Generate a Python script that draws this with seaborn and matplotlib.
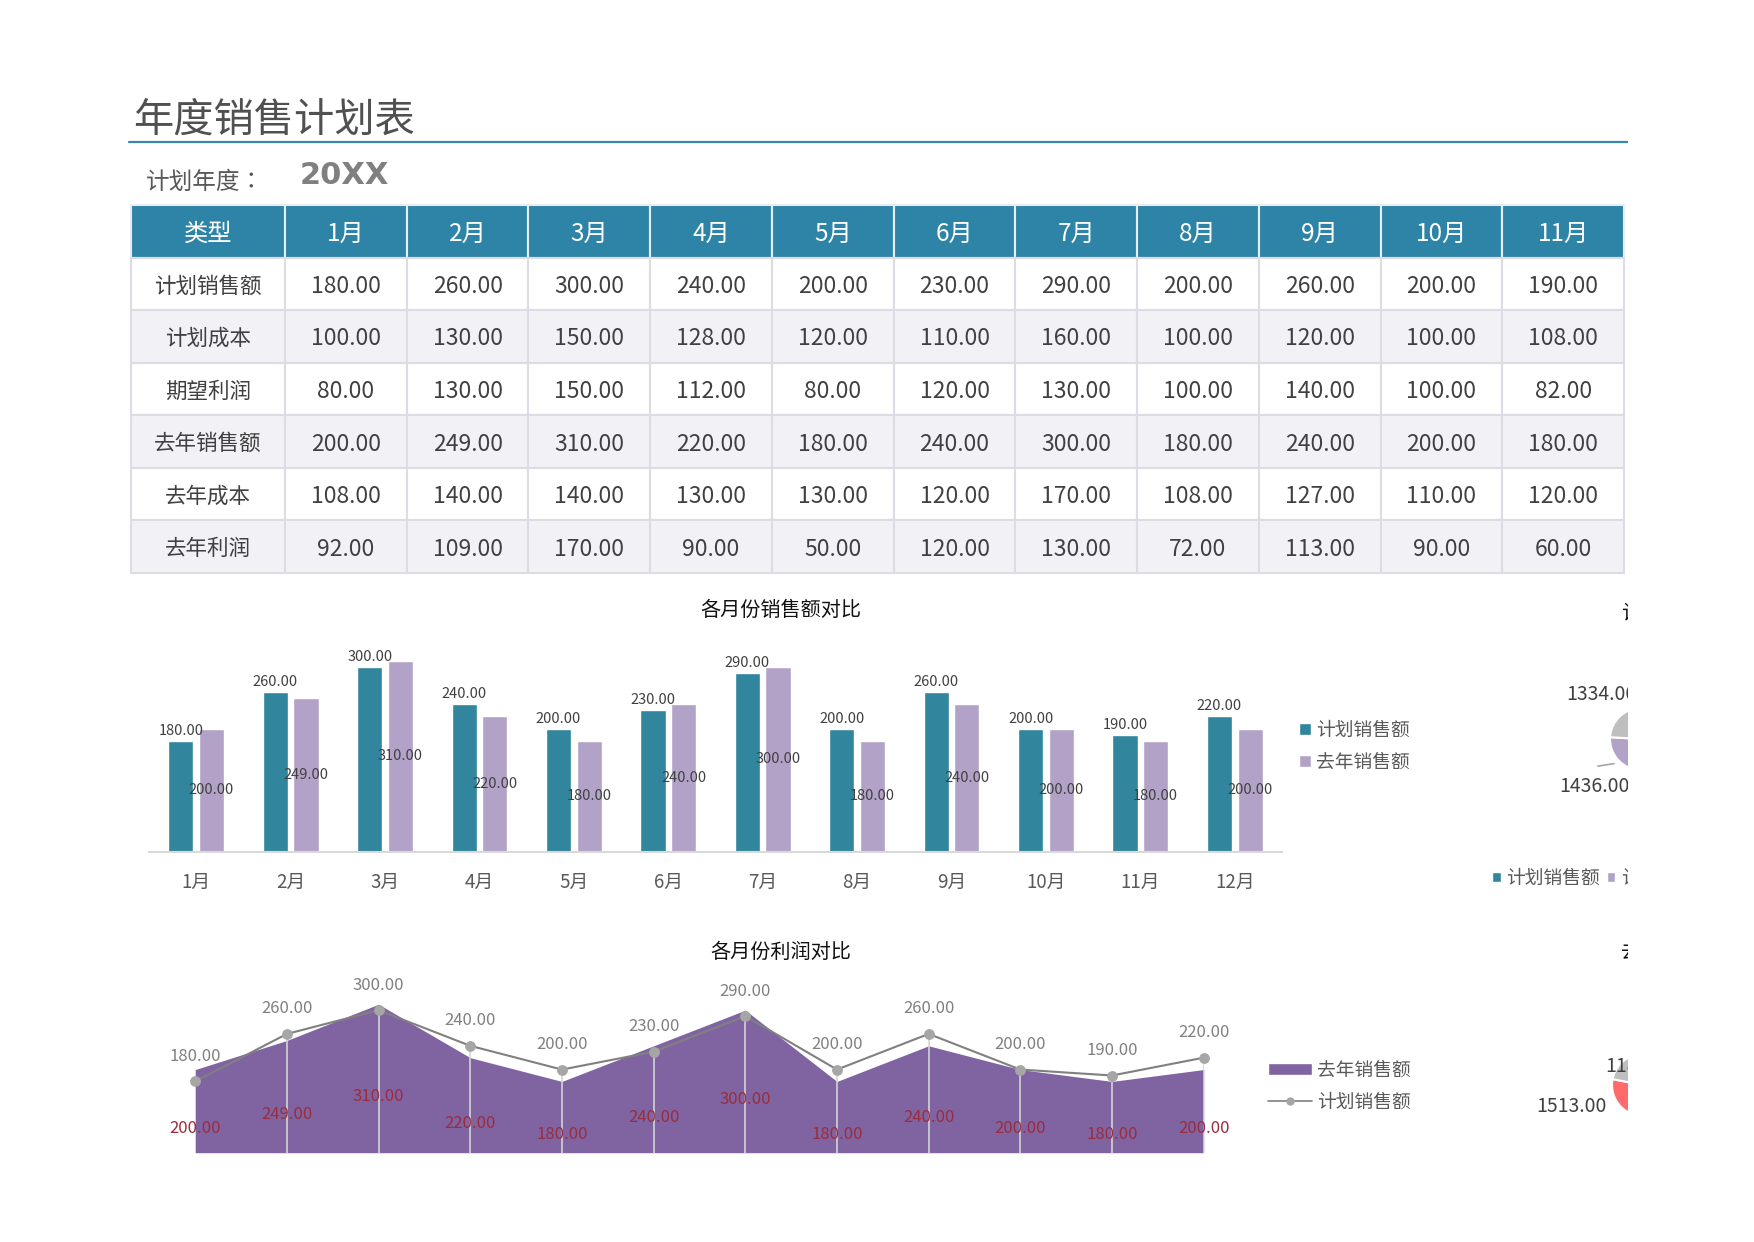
import numpy as np
import pandas as pd
import matplotlib
matplotlib.use("Agg")
import matplotlib.pyplot as plt
import seaborn as sns
from matplotlib.patches import Rectangle, Patch
from matplotlib.lines import Line2D

# ---------------- data ----------------
months = ["1月", "2月", "3月", "4月", "5月", "6月", "7月", "8月", "9月", "10月", "11月", "12月"]
row_names = ["计划销售额", "计划成本", "期望利润", "去年销售额", "去年成本", "去年利润"]
plan_sales = [180, 260, 300, 240, 200, 230, 290, 200, 260, 200, 190, 220]
plan_cost = [100, 130, 150, 128, 120, 110, 160, 100, 120, 100, 108, 110]
plan_profit = [80, 130, 150, 112, 80, 120, 130, 100, 140, 100, 82, 110]
last_sales = [200, 249, 310, 220, 180, 240, 300, 180, 240, 200, 180, 200]
last_cost = [108, 140, 140, 130, 130, 120, 170, 108, 127, 110, 120, 110]
last_profit = [92, 109, 170, 90, 50, 120, 130, 72, 113, 90, 60, 90]
table_months = months[:11]
title_text = "年度销售计划表"
year_label = "计划年度："
year_value = "20XX"
bar_title = "各月份销售额对比"
area_title = "各月份利润对比"
pie1_labels = ["计划销售额", "计划成本", "期望利润"]
pie2_labels = ["去年销售额", "去年成本", "去年利润"]

# ---------------- style ----------------
sns.set_theme(style="white")
plt.rcParams["font.family"] = ["Noto Sans CJK SC", "DejaVu Sans"]
plt.rcParams["axes.unicode_minus"] = False

TEAL = "#31859c"
HEADER = "#2e84a6"
LAV = "#b3a2c7"
PURPLE = "#8064a2"
GRAY_TXT = "#595959"
DARK_TXT = "#404040"

W, H = 1754, 1242
fig = plt.figure(figsize=(W / 100, H / 100), dpi=100)
fig.patch.set_facecolor("white")


def fx(px):
    return px / W


def fy(py):
    return 1 - py / H


def box(x0, y0, x1, y1):
    return [fx(x0), fy(y1), (x1 - x0) / W, (y1 - y0) / H]


# ---------------- header ----------------
fig.text(fx(133), fy(120), title_text, fontsize=29, color="#505050", ha="left", va="center")
fig.add_artist(Line2D([fx(129), fx(1640)], [fy(142), fy(142)], transform=fig.transFigure,
                      color="#3a87ad", lw=1.6))
fig.text(fx(146), fy(182), year_label, fontsize=17, color=GRAY_TXT, ha="left", va="center",
         family=["Noto Sans CJK TC", "DejaVu Sans"])
fig.text(fx(300), fy(176), year_value, fontsize=22, color="#808080", ha="left", va="center",
         family="DejaVu Sans", fontweight="bold")

# ---------------- table ----------------
tab_ax = fig.add_axes(box(131, 205, 1624, 573))
tab_ax.axis("off")
all_rows = [plan_sales, plan_cost, plan_profit, last_sales, last_cost, last_profit]
cell_text = [[name] + [f"{v:.2f}" for v in vals[:11]] for name, vals in zip(row_names, all_rows)]
col_labels = ["类型"] + table_months
widths = [154] + [121.7] * 11
tbl = tab_ax.table(cellText=cell_text, colLabels=col_labels,
                   colWidths=[w / sum(widths) for w in widths],
                   bbox=[0, 0, 1, 1], cellLoc="center")
tbl.auto_set_font_size(False)
for (r, c), cell in tbl.get_celld().items():
    txt = cell.get_text()
    txt.set_verticalalignment("center_baseline")
    if r == 0:
        cell.set_facecolor(HEADER)
        cell.set_edgecolor("#e6eef3")
        cell.set_linewidth(1.5)
        txt.set_color("white")
        txt.set_fontsize(17.5)
    else:
        cell.set_facecolor("#f1f1f6" if r % 2 == 0 else "white")
        cell.set_edgecolor("#dcdce4")
        cell.set_linewidth(1.5)
        txt.set_color(DARK_TXT)
        txt.set_fontsize(15.5 if c == 0 else 16.5)

# ---------------- bar chart ----------------
df_bar = pd.DataFrame({
    "月份": months * 2,
    "系列": ["计划销售额"] * 12 + ["去年销售额"] * 12,
    "金额": plan_sales + last_sales,
})
ax = fig.add_axes(box(149, 636, 1282, 852))
sns.barplot(data=df_bar, x="月份", y="金额", hue="系列", palette=[TEAL, LAV],
            width=0.65, gap=0.18, saturation=1, ax=ax, legend=False)
ax.set_xlim(-0.5, 11.5)
ax.set_ylim(0, 350)
ax.bar_label(ax.containers[0], labels=[f"{v:.2f}" for v in plan_sales], padding=2,
             fontsize=10.5, color=DARK_TXT)
ax.bar_label(ax.containers[1], labels=[f"{v:.2f}" for v in last_sales], label_type="center",
             fontsize=10.5, color=DARK_TXT)
for s in ["top", "right", "left"]:
    ax.spines[s].set_visible(False)
ax.spines["bottom"].set_color("#d9d9d9")
ax.spines["bottom"].set_linewidth(1.5)
ax.set_yticks([])
ax.set_xlabel("")
ax.set_ylabel("")
ax.tick_params(axis="x", length=0, pad=14, labelsize=13.5, labelcolor=GRAY_TXT)
ax.set_facecolor("none")
fig.text(fx(781), fy(610), bar_title, fontsize=14.5, color="#111111", ha="center", va="center")
ax.legend(handles=[Patch(facecolor=TEAL), Patch(facecolor=LAV)],
          labels=["计划销售额", "去年销售额"], loc="upper left",
          bbox_to_anchor=(fx(1290), fy(710)), bbox_transform=fig.transFigure,
          frameon=False, fontsize=13.5, handlelength=0.6, handleheight=0.6,
          handletextpad=0.3, labelspacing=0.6, borderpad=0, labelcolor=GRAY_TXT)

# ---------------- area chart ----------------
xs = np.arange(12)
ax2 = fig.add_axes(box(195.2, 998.3, 1203.7, 1152.7))
ax2.fill_between(xs, last_sales, 60, color=PURPLE, lw=0, zorder=1)
ax2.vlines(xs, 60, plan_sales, color="#d4d4d4", lw=1.2, zorder=2)
sns.lineplot(x=xs, y=plan_sales, ax=ax2, color="#808080", lw=1.5, marker="o",
             markersize=7, markerfacecolor="#a6a6a6", markeredgecolor="#a6a6a6",
             zorder=3, clip_on=False)
for i, v in enumerate(plan_sales):
    ax2.annotate(f"{v:.2f}", (i, v), xytext=(0, 18), textcoords="offset points",
                 ha="center", va="center", fontsize=12, color="#808080")
for i, v in enumerate(last_sales):
    ax2.text(i, v / 2, f"{v:.2f}", ha="center", va="center", fontsize=12, color="#9a2c3c",
             zorder=4)
ax2.set_xlim(0, 11)
ax2.set_ylim(60, 320)
ax2.axis("off")
fig.text(fx(781), fy(952), area_title, fontsize=14.5, color="#111111", ha="center", va="center")
ax2.legend(handles=[Patch(facecolor=PURPLE),
                    Line2D([0], [0], color="#808080", lw=1.2, marker="o", markersize=5,
                           markerfacecolor="#a6a6a6", markeredgecolor="#a6a6a6")],
           labels=["去年销售额", "计划销售额"], loc="upper left",
           bbox_to_anchor=(fx(1259), fy(1050)), bbox_transform=fig.transFigure,
           frameon=False, fontsize=13.5, handlelength=2.3, handleheight=0.65,
           handletextpad=0.3, labelspacing=0.6, borderpad=0, labelcolor=GRAY_TXT)


# ---------------- pies (cropped at the right edge) ----------------
def draw_pie(cx, cy, r, values, colors, label_offsets, title, title_y):
    size = 2.5 * r
    pax = fig.add_axes(box(cx - size / 2, cy - size / 2, cx + size / 2, cy + size / 2))
    wedges, _ = pax.pie(values, colors=colors, startangle=90, counterclock=False,
                        wedgeprops=dict(edgecolor="white", lw=1.5))
    pax.set_xlim(-1.25, 1.25)
    pax.set_ylim(-1.25, 1.25)
    pax.set_aspect("equal")
    for v, off in zip(values, label_offsets):
        if off is None:
            continue
        pax.text(off[0], off[1], f"{v:.2f}", ha="left", va="center",
                 fontsize=14, color=DARK_TXT, clip_on=False)
    fig.text(fx(1621), fy(title_y), title, fontsize=14.5, color="#111111", ha="left",
             va="center")
    return pax


pie1_vals = [sum(plan_sales), sum(plan_cost), sum(plan_profit)]
pie2_vals = [sum(last_sales), sum(last_cost), sum(last_profit)]
pax1 = draw_pie(1641, 739, 31, pie1_vals, [TEAL, LAV, "#bfbfbf"],
                [None, (-2.63, -1.54), (-2.41, 1.42)], "计划销售额构成", 613)
pax1.annotate("", xy=(-0.78, -0.78), xytext=(-1.48, -0.89),
              arrowprops=dict(arrowstyle="-", color="#a6a6a6", lw=1.2))
pax1.legend(handles=[Patch(facecolor=c) for c in [TEAL, LAV, "#bfbfbf"]],
            labels=pie1_labels, loc="center left", ncol=3,
            bbox_to_anchor=(fx(1483), fy(878)), bbox_transform=fig.transFigure,
            frameon=False, fontsize=13.5, handlelength=0.45, handleheight=0.45,
            handletextpad=0.3, columnspacing=0.35, borderpad=0, labelcolor=GRAY_TXT)
pax2 = draw_pie(1643, 1085, 31, pie2_vals, [TEAL, "#ff6b6b", "#bfbfbf"],
                [None, (-3.43, -0.70), (-1.23, 0.59)], "去年销售额构成", 952)

# white cover: the sheet is cut off at the right
fig.add_artist(Rectangle((fx(1628), 0), 1 - fx(1628), 1, transform=fig.transFigure,
                         facecolor="white", edgecolor="none", zorder=1000))

fig.savefig("out.png", dpi=100, facecolor="white")
